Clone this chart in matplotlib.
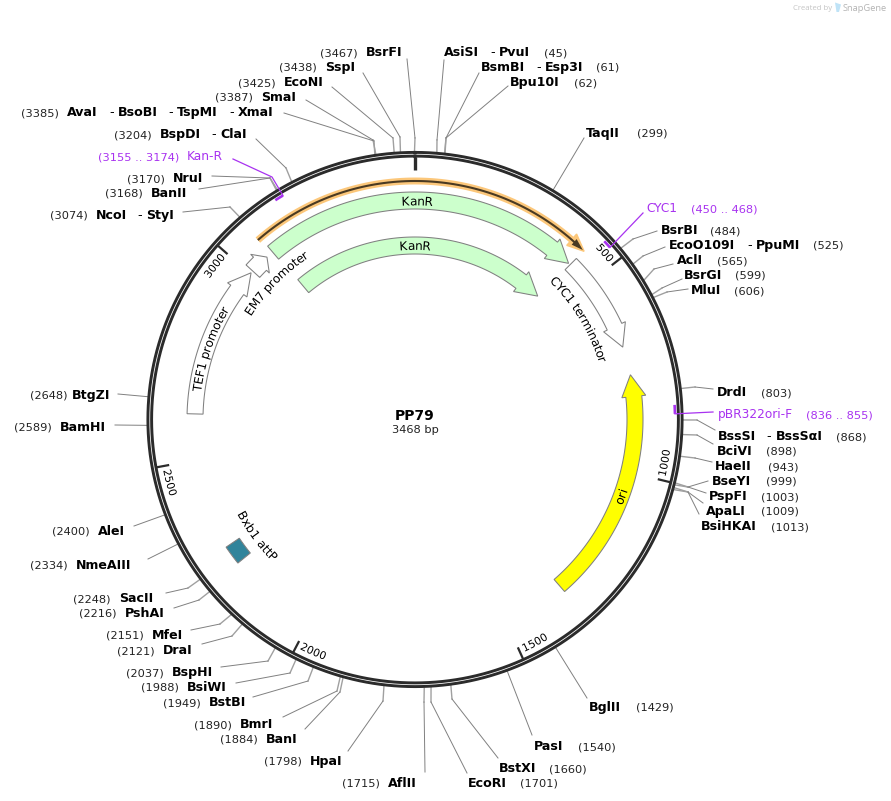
import numpy as np
import matplotlib
matplotlib.use('Agg')
import matplotlib.pyplot as plt
import matplotlib.text as mtext
from matplotlib.patches import Polygon
from matplotlib.textpath import TextPath, text_to_path
from matplotlib.transforms import Affine2D

plasmid_name = 'PP79'
plasmid_len = 3468
ticks_bp = [0, 500, 1000, 1500, 2000, 2500, 3000]

# enzyme sites
site_names = [['BsrFI'], ['SspI'], ['EcoNI'], ['SmaI'], ['AvaI', 'BsoBI', 'TspMI', 'XmaI'],
              ['BspDI', 'ClaI'], ['NruI'], ['BanII'], ['NcoI', 'StyI'], ['BtgZI'], ['BamHI'],
              ['AsiSI', 'PvuI'], ['BsmBI', 'Esp3I'], ['Bpu10I'], ['TaqII'], ['BsrBI'],
              ['EcoO109I', 'PpuMI'], ['AclI'], ['BsrGI'], ['MluI'], ['DrdI'],
              ['BssSI', 'BssSαI'], ['BciVI'], ['HaeII'], ['BseYI'], ['PspFI'], ['ApaLI'],
              ['BsiHKAI'], ['AleI'], ['NmeAIII'], ['SacII'], ['PshAI'], ['MfeI'], ['DraI'],
              ['BspHI'], ['BsiWI'], ['BstBI'], ['BmrI'], ['BanI'], ['HpaI'], ['AflII'],
              ['EcoRI'], ['BstXI'], ['PasI'], ['BglII']]
site_bp = [3467, 3438, 3425, 3387, 3385, 3204, 3170, 3168, 3074, 2648, 2589,
           45, 61, 62, 299, 484, 525, 565, 599, 606, 803,
           868, 898, 943, 999, 1003, 1009, 1013, 2400, 2334, 2248, 2216, 2151, 2121,
           2037, 1988, 1949, 1890, 1884, 1798, 1715, 1701, 1660, 1540, 1429]

# label layout, same order as the sites: number x, x of each name/dash, row y
site_num_x = [320, 279, 238, 215, 21, 114, 127, 105, 50, 30, 14,
              544, 596, 574, 637, 710, 813, 717, 735, 734, 761,
              836, 766, 768, 766, 761, 761, 771, 52, 30, 73, 79, 106, 117,
              126, 141, 163, 194, 220, 264, 342, 520, 549, 578, 636]
site_name_x = [[366], [325], [284], [261], [67, 109, 118, 168, 177, 229, 238],
               [160, 211, 220], [173], [151], [96, 137, 146], [72], [60],
               [444, 490, 499], [481, 536, 545], [510], [586], [661],
               [669, 747, 756], [677], [684], [691], [717],
               [718, 766, 776], [717], [715], [712], [709], [706],
               [701], [98], [76], [119], [125], [152], [163],
               [172], [187], [209], [240], [266], [310], [388],
               [468], [499], [534], [589]]
site_y = [52, 67, 82, 97, 112, 134, 178, 193, 215, 395, 427,
          52, 67, 82, 133, 230, 245, 260, 275, 290, 392,
          436, 451, 466, 481, 496, 511, 526, 531, 565, 598, 613, 635, 650,
          672, 687, 702, 724, 739, 761, 783, 783, 768, 746, 707]
site_elbow = [(415, 138), (400, 137), (393, 138), (373, 140), (374, 141), (286, 168),
              (270, 178), (270, 178), (230, 207), None, None,
              (437, 140), (446, 138), (446, 138), None, (633, 239),
              (643, 256), (654, 269), (662, 288), (667, 292), (695, 387),
              (697, 420), (697, 435), (695, 458), (688, 487), (688, 487), (688, 492),
              (688, 492), None, None, (188, 588), (199, 600), (220, 624), (232, 636),
              (268, 661), (290, 673), (308, 681), (337, 691), (340, 692), (383, 701), (424, 702),
              (431, 702), (452, 699), None, None]
site_end = [(407, 59), (363, 73), (332, 87), (306, 100), (284, 113), (256, 139),
            (212, 176), (199, 189), (183, 212), (118, 394), (115, 425),
            (444, 60), (479, 73), (508, 86), (584, 138), (657, 231),
            (665, 247), (673, 264), (682, 279), (688, 289), (713, 389),
            (715, 430), (713, 444), (712, 462), (708, 481), (706, 493), (703, 503),
            (699, 514), (134, 526), (148, 559), (166, 593), (174, 608), (191, 630), (202, 644),
            (221, 667), (236, 683), (253, 697), (283, 717), (305, 729), (348, 751), (425, 772),
            (467, 773), (498, 758), (532, 735), (587, 698)]

# primers
primer_names = ['Kan-R', 'CYC1', 'pBR322ori-F']
primer_start = [3155, 450, 836]
primer_end = [3174, 468, 855]
primer_name_x = [187, 646, 718]
primer_num_x = [98, 691, 806]
primer_y = [156, 208, 414]
primer_path = [[(272, 177), (233, 159)], [(643, 213)], [(713, 412)]]

# features (negative start = runs over the origin)
feat_names = ['KanR', 'KanR', 'TEF1 promoter', 'EM7 promoter', 'CYC1 terminator', 'ori']
feat_start = [-389, -385, 2615, 3010, 434, 1339]
feat_end = [429, 432, 3004, 3060, 682, 754]
feat_colors = ['#ccffcc', '#ccffcc', '#ffffff', '#ffffff', '#ffffff', '#ffff00']
feat_r = [(210.5, 227.5), (165.5, 182.5), (212, 228), (210.5, 229), (212, 228), (212, 228)]
feat_head = [22, 22, 22, 9.6, 22, 22]
feat_label_bp = [7, 2, 2784, 3030, 565, 1065]
feat_label_r = [218.5, 174, 220, 198, 197, 220]
attp_start, attp_end = 2225, 2273
attp_name = 'Bxb1 attP'
orange_start, orange_end = -397, 425

CX, CY = 415, 419.5
GREY = '#808080'
PURPLE = '#a832f0'
DARK = '#2b2b2b'


def xy(bp, r):
    t = np.radians(np.asarray(bp) * 360.0 / plasmid_len)
    return CX + r * np.sin(t), CY - r * np.cos(t)


def arc(b0, b1, r, n=80):
    return np.column_stack(xy(np.linspace(b0, b1, n), r))


def arrow_poly(b0, b1, r0, r1, head_px=22, wing=4):
    sign = 1 if b1 > b0 else -1
    rm = (r0 + r1) / 2
    neck = b1 - sign * head_px / rm * plasmid_len / (2 * np.pi)
    pts = [arc(b0, neck, r1), arc(neck, neck, r1 + wing, 1), arc(b1, b1, rm, 1),
           arc(neck, neck, r0 - wing, 1), arc(neck, b0, r0)]
    return np.vstack(pts)


class ArcText(mtext.Text):
    # one text artist, its glyphs are laid along the circle when drawn
    def __init__(self, s, bp, r, flip=False, **kw):
        self.bp, self.r, self.flip = bp, r, flip
        x, y = xy(bp, r)
        theta = bp * 360.0 / plasmid_len
        rot = 180 - theta if flip else -theta
        super().__init__(x, y, s, rotation=rot, rotation_mode='anchor',
                         ha='center', va='center', **kw)

    def draw(self, renderer):
        s = self.get_text()
        fp = self.get_fontproperties()
        scale = 100 / 72.0
        size_px = fp.get_size_in_points() * scale

        def width(part):
            return text_to_path.get_text_width_height_descent(part, fp, False)[0] * scale

        total = width(s)
        base_r = self.r + 0.36 * size_px if self.flip else self.r - 0.36 * size_px
        sign = -1 if self.flip else 1
        gc = renderer.new_gc()
        gc.set_linewidth(0)
        face = matplotlib.colors.to_rgba(self.get_color())
        for i, ch in enumerate(s):
            if ch == ' ':
                continue
            mid = width(s[:i + 1]) - width(ch) / 2 - total / 2
            b = self.bp + sign * mid / self.r * plasmid_len / (2 * np.pi)
            theta = b * 360.0 / plasmid_len
            x, y = self.get_transform().transform(xy(b, base_r))
            path = TextPath((0, 0), ch, prop=fp)
            box = path.get_extents()
            tr = (Affine2D().translate(-(box.x0 + box.x1) / 2, 0).scale(scale)
                  .rotate_deg(180 - theta if self.flip else -theta).translate(x, y))
            renderer.draw_path(gc, path, tr, rgbFace=face)
        gc.restore()


fig = plt.figure(figsize=(8.91, 8.01), dpi=100)
ax = fig.add_axes([0, 0, 1, 1])
ax.set_xlim(0, 891)
ax.set_ylim(801, 0)
ax.axis('off')

# backbone, two dark rings with a white gap
whole = arc(0, plasmid_len, 267.1, 721)
ax.plot(whole[:, 0], whole[:, 1], color=DARK, lw=2.1, zorder=3)
whole = arc(0, plasmid_len, 263.4, 721)
ax.plot(whole[:, 0], whole[:, 1], color=DARK, lw=2.1, zorder=3)

# ticks
for b in ticks_bp:
    p = arc(b, b, 263, 2)
    q = xy(b, 250)
    ax.plot([p[0, 0], q[0]], [p[0, 1], q[1]], color=DARK, lw=1.6 if b else 2.4,
            solid_capstyle='butt', zorder=3)
    if b:
        off = (len(str(b)) * 3.35 + 4) / 253 * plasmid_len / (2 * np.pi)
        theta = b * 360.0 / plasmid_len
        ax.add_artist(ArcText(str(b), b - off, 253, flip=90 < theta < 270,
                              fontsize=7.7, color='black'))

# restriction sites
for names, bp, nx, name_x, y, elbow, end in zip(site_names, site_bp, site_num_x, site_name_x,
                                                site_y, site_elbow, site_end):
    start = xy(bp, 268.5)
    if elbow:
        ax.plot(*zip(start, elbow), color='#a0a0a0', lw=1.0, zorder=1)
    path = [elbow if elbow else start, end]
    ax.plot(*zip(*path), color=GREY, lw=0.7, zorder=1)
    ax.text(nx, y + 4, '(%d)' % bp, fontsize=8.2, color='#222222', va='baseline')
    pieces = []
    for n in names:
        pieces += [n, '-']
    pieces = pieces[:-1]
    for piece, px in zip(pieces, name_x):
        ax.text(px, y + 4, piece, fontsize=9.1, va='baseline', color='black',
                fontweight='normal' if piece == '-' else 'bold')

# primers
for name, b0, b1, name_x, num_x, y, path in zip(primer_names, primer_start, primer_end,
                                                primer_name_x, primer_num_x, primer_y, primer_path):
    a = arc(b0, b1, 260, 12)
    ax.plot(a[:, 0], a[:, 1], color=PURPLE, lw=1.9, solid_capstyle='butt', zorder=4)
    line = [xy(b1, 260)] + path
    ax.plot(*zip(*line), color=PURPLE, lw=0.9, zorder=4)
    ax.text(name_x, y + 4, name, fontsize=8.7, color=PURPLE, va='baseline')
    ax.text(num_x, y + 4, '(%d .. %d)' % (b0, b1), fontsize=8.2, color=PURPLE, va='baseline')

# orange ORF arrow above the KanR feature
orf = arc(orange_start, orange_end - 20, 238.5)
ax.plot(orf[:, 0], orf[:, 1], color='#fcc77a', lw=5, solid_capstyle='butt', zorder=2)
ax.add_patch(Polygon(arrow_poly(orange_end - 25, orange_end + 10, 236, 241, head_px=17, wing=5),
                     closed=True, fc='#fcc77a', ec='#fcc77a', lw=1, zorder=2))
ax.plot(orf[:, 0], orf[:, 1], color='#4a3a22', lw=1.5, solid_capstyle='butt', zorder=2.2)
ax.add_patch(Polygon(arrow_poly(orange_end - 22, orange_end + 6, 237.8, 239.2, head_px=12, wing=3),
                     closed=True, fc='#4a3a22', ec='none', zorder=2.2))

# features
for name, b0, b1, col, (r0, r1), head, lb, lr in zip(feat_names, feat_start, feat_end, feat_colors,
                                                     feat_r, feat_head, feat_label_bp, feat_label_r):
    ax.add_patch(Polygon(arrow_poly(b0, b1, r0, r1, head_px=head), closed=True, fc=col,
                         ec=GREY, lw=0.75, joinstyle='miter', zorder=2))
    ax.add_artist(ArcText(name, lb, lr, flip=name == 'ori', fontsize=8.7, color='black', zorder=5))

attp = np.vstack([arc(attp_start, attp_end, 228, 8), arc(attp_end, attp_start, 212, 8)])
ax.add_patch(Polygon(attp, closed=True, fc='#31849b', ec=GREY, lw=0.75, zorder=2))
ax.add_artist(ArcText(attp_name, (attp_start + attp_end) / 2, 197, flip=True,
                      fontsize=8.7, color='black'))

# centre title
ax.text(415, 420, plasmid_name, fontsize=10, fontweight='bold', ha='center', va='baseline')
ax.text(415, 433, '%d bp' % plasmid_len, fontsize=8.2, ha='center', va='baseline', color='#222222')

# watermark
ax.text(793, 10, 'Created by', fontsize=5.6, family='Open Sans', color='#c4c4c4', va='baseline')
ax.add_patch(Polygon([(835, 2.5), (841, 4.5), (839, 12), (836.5, 12)], closed=True,
                     fc='#bfe3f7', ec='none'))
ax.text(843, 11, 'SnapGene', fontsize=6.7, family='Open Sans', color='#b4b4b4', va='baseline')

fig.savefig('out.png', dpi=100, facecolor='white')
